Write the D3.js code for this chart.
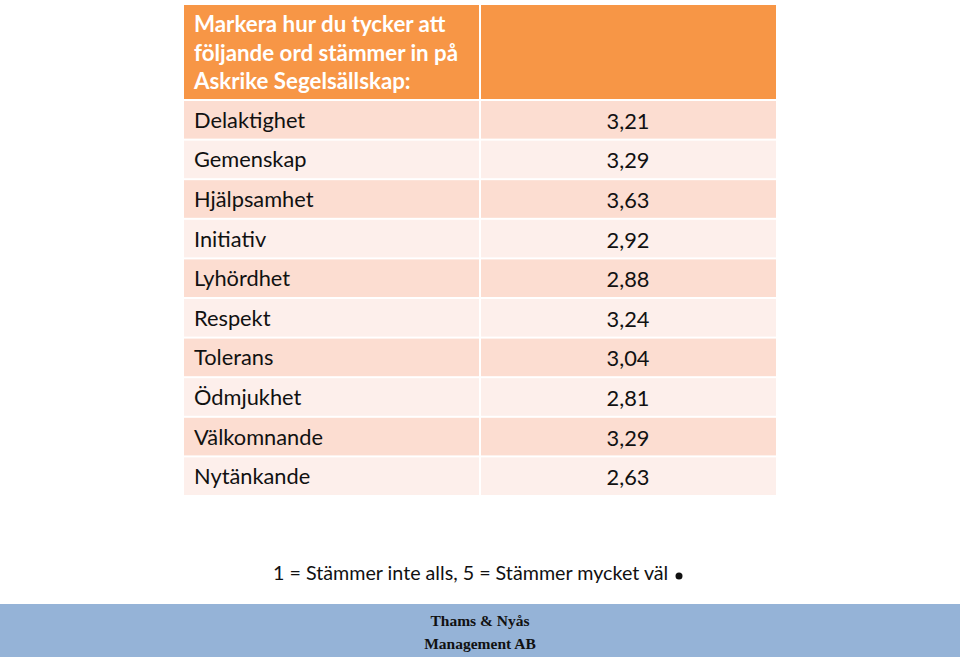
<!DOCTYPE html>
<html><head><meta charset="utf-8">
<script src="https://cdn.jsdelivr.net/npm/d3@7"></script>
<style>body{margin:0;background:#fff;}svg{display:block;}</style>
</head><body>
<script>
const headerLines = ["Markera hur du tycker att", "följande ord stämmer in på", "Askrike Segelsällskap:"];
const categories = ["Delaktighet","Gemenskap","Hjälpsamhet","Initiativ","Lyhördhet","Respekt","Tolerans","Ödmjukhet","Välkomnande","Nytänkande"];
const values = [3.21,3.29,3.63,2.92,2.88,3.24,3.04,2.81,3.29,2.63];
const footnote = "1 = Stämmer inte alls, 5 = Stämmer mycket väl";
const footerLines = ["Thams & Nyås", "Management AB"];

const W = 960, H = 661;
const svg = d3.select("body").append("svg").attr("width", W).attr("height", H);
const font = "Lato, 'Open Sans', sans-serif";
const fmt = v => d3.format(".2f")(v).replace(".", ",");

const left = 184, mid = 480, right = 776;
// header
svg.append("rect").attr("x", left).attr("y", 5).attr("width", mid - left - 1).attr("height", 94).attr("fill", "#F79646");
svg.append("rect").attr("x", mid + 1).attr("y", 5).attr("width", right - mid - 1).attr("height", 94).attr("fill", "#F79646");
svg.selectAll("text.h").data(headerLines).join("text")
  .attr("x", 194).attr("y", (d, i) => 32 + i * 28.5)
  .attr("fill", "#fff").attr("font-family", font).attr("font-weight", "bold").attr("font-size", 22.3)
  .text(d => d);

const y = d3.scaleBand().domain(categories).range([101, 495]).paddingInner(0.05).paddingOuter(0);
const rows = svg.selectAll("g.row").data(categories.map((c, i) => ({c, v: values[i], i}))).join("g");
rows.append("rect").attr("x", left).attr("y", d => y(d.c)).attr("width", mid - left - 1).attr("height", y.bandwidth())
  .attr("fill", d => d.i % 2 === 0 ? "#FCDDD1" : "#FDEFEB");
rows.append("rect").attr("x", mid + 1).attr("y", d => y(d.c)).attr("width", right - mid - 1).attr("height", y.bandwidth())
  .attr("fill", d => d.i % 2 === 0 ? "#FCDDD1" : "#FDEFEB");
rows.append("text").attr("x", 194).attr("y", d => y(d.c) + y.bandwidth() / 2 + 8)
  .attr("font-family", font).attr("font-size", 21.8).attr("fill", "#111").text(d => d.c);
rows.append("text").attr("x", (mid + right) / 2).attr("y", d => y(d.c) + y.bandwidth() / 2 + 9)
  .attr("text-anchor", "middle").attr("font-family", font).attr("font-size", 21.8).attr("fill", "#111").text(d => fmt(d.v));

// footnote
svg.append("text").attr("x", 273).attr("y", 580).attr("font-family", font).attr("font-size", 19.7).attr("fill", "#111").text(footnote);
svg.append("circle").attr("cx", 679).attr("cy", 576).attr("r", 3.5).attr("fill", "#111");

// footer band
svg.append("rect").attr("x", 0).attr("y", 604).attr("width", W).attr("height", 53).attr("fill", "#95B3D7");
svg.selectAll("text.f").data(footerLines).join("text")
  .attr("x", 480).attr("y", (d, i) => 626 + i * 23).attr("text-anchor", "middle")
  .attr("font-family", "'Liberation Serif', 'Times New Roman', serif").attr("font-weight", "bold").attr("font-size", 15.5).attr("fill", "#111")
  .text(d => d);
</script>
</body></html>
